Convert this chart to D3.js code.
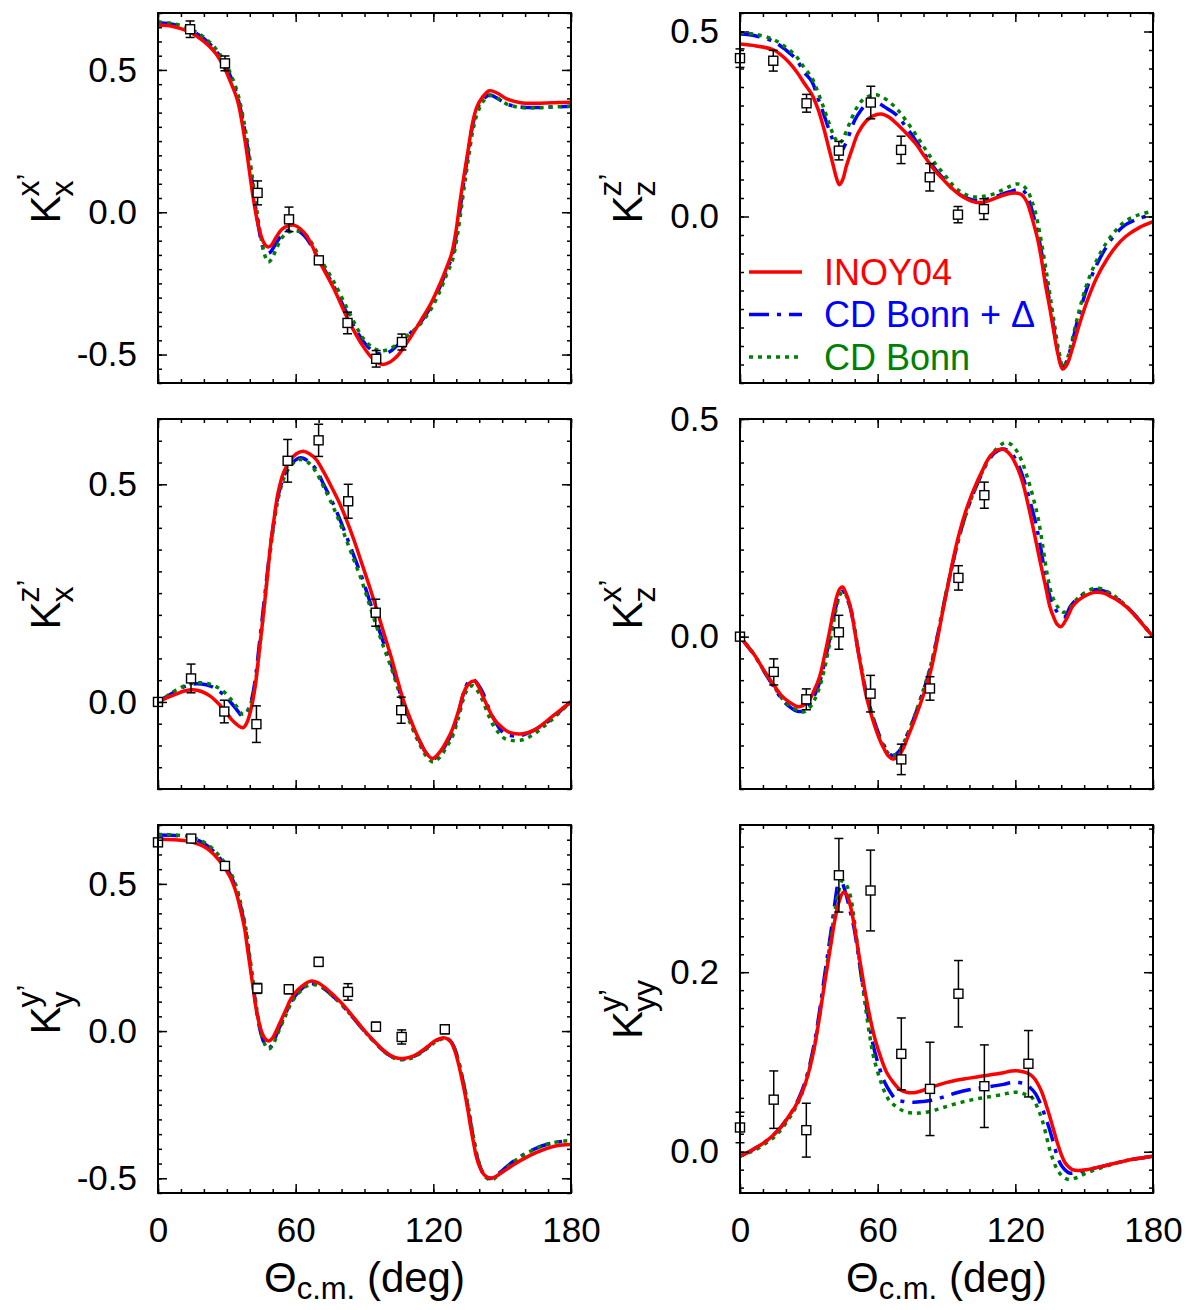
<!DOCTYPE html>
<html>
<head>
<meta charset="utf-8">
<script src="https://cdn.jsdelivr.net/npm/d3@7"></script>
<style>
  body { margin: 0; background: #fff; }
  svg { display: block; }
</style>
</head>
<body>
<svg id="chart" width="1190" height="1310"></svg>
<script>
// ---- data: [theta (deg), value] for curves, [theta, value, error] for measurements ----

// K_x^x'
var kxx_inoy = [[0,0.658],[5,0.655],[10,0.645],[15,0.628],[20,0.6],[25,0.56],[28.7,0.511],[31.5,0.46],[34.6,0.394],[37.9,0.253],[41.2,0.066],[43,-0.02],[44.6,-0.075],[46.3,-0.11],[47.9,-0.122],[49.5,-0.115],[51.2,-0.092],[54,-0.06],[57,-0.047],[59.6,-0.046],[62,-0.058],[64.6,-0.081],[67,-0.115],[70.1,-0.169],[76.3,-0.263],[83,-0.38],[89.6,-0.474],[94,-0.518],[97.9,-0.535],[101,-0.527],[104,-0.508],[106.3,-0.485],[110,-0.44],[114.6,-0.38],[119,-0.32],[123,-0.25],[126,-0.19],[128,-0.145],[130,-0.06],[131.5,0.03],[133,0.11],[135,0.21],[137,0.31],[139,0.37],[141.5,0.405],[144.5,0.427],[148,0.418],[152,0.398],[158,0.385],[165,0.383],[172,0.385],[180,0.386]];
var kxx_bonnD = [[0,0.666],[5,0.662],[10,0.652],[15,0.636],[20,0.61],[25,0.57],[29,0.52],[32,0.47],[35,0.395],[38.5,0.255],[41.8,0.06],[44,-0.06],[46,-0.13],[47.5,-0.145],[49,-0.14],[51,-0.115],[54,-0.08],[57,-0.062],[59.6,-0.06],[62,-0.07],[64.6,-0.09],[67,-0.12],[70,-0.165],[76.3,-0.255],[83,-0.365],[89.6,-0.455],[94,-0.49],[97.5,-0.498],[101,-0.49],[104,-0.47],[106.3,-0.455],[110,-0.425],[114.6,-0.385],[119,-0.33],[123,-0.26],[126,-0.2],[128,-0.16],[130,-0.08],[131.5,0.0],[133,0.09],[135,0.2],[137,0.3],[139,0.36],[141.5,0.395],[144.5,0.412],[148,0.4],[152,0.38],[158,0.37],[165,0.368],[172,0.37],[180,0.372]];
var kxx_bonn = [[0,0.668],[5,0.665],[10,0.656],[15,0.64],[20,0.615],[25,0.576],[29,0.53],[32,0.48],[35,0.41],[38.5,0.27],[42,0.07],[44.5,-0.07],[46.5,-0.15],[48,-0.175],[49.5,-0.165],[51.5,-0.13],[54,-0.09],[57,-0.07],[60,-0.065],[62.5,-0.07],[65,-0.085],[67.5,-0.115],[70.5,-0.16],[77,-0.25],[83.5,-0.355],[89.6,-0.445],[94,-0.478],[97.5,-0.487],[101,-0.48],[104,-0.465],[106.3,-0.45],[110,-0.425],[114.6,-0.39],[119,-0.34],[123,-0.275],[126,-0.215],[128.3,-0.17],[130.3,-0.09],[131.8,-0.01],[133.3,0.08],[135.3,0.19],[137.3,0.29],[139.3,0.35],[141.8,0.39],[145,0.41],[148,0.4],[152,0.38],[158,0.368],[165,0.367],[172,0.37],[180,0.372]];
var kxx_data = [[14,0.643,0.029],[29.2,0.523,0.026],[43.4,0.068,0.042],[57.1,-0.025,0.043],[70.1,-0.169,0.01],[82.6,-0.389,0.038],[95.1,-0.515,0.029],[106.3,-0.456,0.028]];

// K_z^z'
var kzz_inoy = [[0,0.466],[7,0.461],[14.7,0.45],[20,0.425],[24.6,0.392],[28,0.36],[31.3,0.33],[34,0.29],[36.3,0.243],[38.5,0.19],[40.4,0.144],[42,0.105],[43.3,0.086],[44.8,0.1],[46.3,0.135],[49,0.185],[51.4,0.225],[55,0.258],[58,0.272],[61.4,0.277],[65,0.268],[68.1,0.252],[72,0.228],[76.4,0.198],[80.5,0.162],[84.7,0.126],[89,0.097],[93.1,0.072],[98,0.05],[103,0.038],[107,0.04],[111.4,0.05],[115,0.058],[118.1,0.063],[121,0.063],[123,0.058],[125,0.04],[126.4,0.015],[128,-0.02],[129.8,-0.063],[131.5,-0.12],[133,-0.18],[134.8,-0.24],[136.4,-0.297],[138.5,-0.37],[140.6,-0.412],[142.5,-0.4],[144.7,-0.36],[148,-0.29],[151.5,-0.225],[155.5,-0.165],[159.8,-0.117],[164,-0.08],[168.1,-0.054],[174,-0.03],[180,-0.014]];
var kzz_bonnD = [[0,0.493],[7,0.488],[14.7,0.473],[20,0.45],[24.6,0.424],[28,0.39],[31.3,0.365],[34,0.32],[36.3,0.28],[38.5,0.24],[40.4,0.207],[42,0.18],[43.6,0.171],[45.5,0.19],[47.8,0.225],[50,0.26],[52.8,0.288],[55,0.303],[57.8,0.311],[60,0.308],[62.8,0.297],[68.1,0.275],[72,0.245],[76.4,0.207],[80.5,0.168],[84.7,0.131],[89,0.1],[93.1,0.072],[97,0.055],[101.4,0.045],[105,0.044],[109.7,0.05],[114,0.06],[118.1,0.068],[121,0.073],[123,0.072],[125,0.058],[126.4,0.036],[128,0.0],[129.8,-0.045],[131.5,-0.1],[133,-0.162],[134.8,-0.225],[136.4,-0.288],[138.5,-0.365],[140.6,-0.41],[142.5,-0.39],[144.7,-0.342],[148,-0.26],[151.5,-0.189],[155.5,-0.13],[159.8,-0.081],[164,-0.045],[168.1,-0.022],[174,-0.005],[180,0.005]];
var kzz_bonn = [[0,0.497],[7,0.492],[14.7,0.478],[20,0.457],[24.6,0.432],[28,0.402],[31.3,0.375],[34,0.335],[36.3,0.297],[38.5,0.258],[40.4,0.225],[42,0.205],[43,0.198],[44.5,0.205],[46,0.225],[48.3,0.26],[51,0.295],[54,0.318],[58.6,0.329],[61,0.326],[64,0.315],[68.5,0.29],[72.5,0.258],[77,0.218],[81,0.18],[85.2,0.142],[89.5,0.11],[93.5,0.08],[97.5,0.062],[101.5,0.053],[105.5,0.054],[110,0.06],[114.5,0.072],[118,0.083],[120.5,0.088],[123,0.085],[125.3,0.07],[127,0.045],[128.8,0.01],[130.5,-0.04],[132.2,-0.1],[133.8,-0.16],[135.4,-0.225],[137,-0.29],[139,-0.365],[140.8,-0.408],[142.6,-0.385],[144.7,-0.335],[148,-0.25],[151.5,-0.177],[155.5,-0.118],[159.8,-0.07],[164,-0.036],[168.1,-0.012],[174,0.005],[180,0.014]];
var kzz_data = [[0,0.428,0.025],[14.5,0.421,0.028],[29,0.306,0.024],[43.1,0.178,0.025],[57,0.308,0.044],[70.2,0.18,0.037],[82.7,0.106,0.037],[95,0.005,0.022],[106.3,0.02,0.028]];

// K_x^z'
var kxz_inoy = [[0,0],[4,0.01],[7.8,0.018],[11.5,0.025],[15.2,0.028],[19,0.024],[22.6,0.014],[26,-0.002],[29.2,-0.021],[32,-0.04],[34.2,-0.051],[36,-0.058],[37.2,-0.059],[38.7,-0.048],[40,-0.028],[41.2,0.0],[42.4,0.037],[44,0.11],[45.7,0.19],[47.4,0.275],[49,0.358],[50.7,0.425],[52.3,0.48],[54.8,0.528],[57.3,0.553],[60.3,0.57],[63.4,0.576],[66,0.57],[68.9,0.557],[72,0.53],[75.5,0.495],[79,0.458],[82.1,0.419],[85.4,0.372],[88.7,0.32],[92,0.268],[95.3,0.213],[98.6,0.155],[101.9,0.098],[104.5,0.048],[106.8,0.006],[109.3,-0.03],[111.8,-0.063],[114.3,-0.092],[116.7,-0.116],[119.7,-0.13],[123.3,-0.112],[125.8,-0.09],[128.3,-0.063],[131,-0.02],[133.3,0.022],[135.5,0.042],[137.9,0.048],[139.7,0.035],[141.5,0.014],[144,-0.015],[146.5,-0.04],[149.8,-0.058],[153.1,-0.07],[158.9,-0.073],[164.6,-0.063],[168,-0.05],[171.2,-0.036],[175.5,-0.018],[180,0]];
var kxz_bonnD = [[0,0],[4,0.013],[7.8,0.025],[11.5,0.035],[15.2,0.041],[19,0.041],[22.6,0.037],[26,0.027],[29.2,0.014],[32,-0.003],[34.2,-0.017],[36.7,-0.032],[38.3,-0.026],[40,-0.009],[41.2,0.015],[42.4,0.052],[44,0.125],[45.7,0.205],[47.4,0.285],[49,0.358],[50.7,0.422],[52.3,0.472],[54.8,0.518],[57.3,0.541],[60,0.556],[62.2,0.561],[65.5,0.553],[68.9,0.534],[72,0.502],[75.5,0.465],[79,0.423],[82.1,0.381],[85.4,0.335],[88.7,0.289],[92,0.236],[95.3,0.182],[98.6,0.131],[101.9,0.083],[104.5,0.038],[106.8,-0.001],[109.3,-0.035],[111.8,-0.067],[114.3,-0.093],[116.7,-0.116],[120,-0.131],[123.3,-0.116],[125.8,-0.095],[128.3,-0.07],[131,-0.025],[133.3,0.022],[135.3,0.046],[137.4,0.052],[139.5,0.04],[141.5,0.022],[144,-0.012],[146.5,-0.04],[149,-0.062],[151.4,-0.074],[157.2,-0.078],[162,-0.07],[164.6,-0.063],[168,-0.052],[171.2,-0.04],[175.5,-0.02],[180,0]];
var kxz_bonn = [[0,0],[4,0.014],[7.8,0.027],[11.5,0.037],[15.2,0.043],[19,0.044],[22.6,0.041],[26,0.033],[29.2,0.021],[32,0.005],[34.2,-0.01],[36.8,-0.028],[38.5,-0.025],[40,-0.01],[41.3,0.012],[42.5,0.045],[44.1,0.115],[45.8,0.195],[47.5,0.278],[49.1,0.352],[50.8,0.418],[52.5,0.47],[55,0.516],[57.5,0.54],[60,0.553],[62.2,0.557],[65.5,0.55],[68.9,0.528],[72,0.496],[75.5,0.458],[79,0.415],[82.1,0.372],[85.4,0.326],[88.7,0.28],[92,0.226],[95.3,0.173],[98.6,0.122],[101.9,0.075],[104.5,0.032],[106.8,-0.006],[109.3,-0.04],[111.8,-0.072],[114.3,-0.1],[116.7,-0.123],[120,-0.138],[123.3,-0.124],[125.8,-0.103],[128.3,-0.08],[131,-0.035],[133.3,0.01],[135.3,0.032],[137.2,0.037],[139.3,0.025],[141.5,0.003],[144,-0.03],[146.5,-0.057],[149,-0.074],[151.4,-0.085],[155.5,-0.089],[159,-0.087],[162,-0.08],[165,-0.07],[168,-0.057],[171.2,-0.043],[175.5,-0.022],[180,0]];
var kxz_data = [[0,0,0.006],[14.4,0.054,0.033],[28.9,-0.022,0.026],[42.9,-0.051,0.042],[56.5,0.554,0.049],[70,0.601,0.037],[82.9,0.461,0.039],[94.9,0.205,0.031],[106,-0.019,0.03]];

// K_z^x'
var kzx_inoy = [[0,0],[3,-0.02],[6.3,-0.042],[10.5,-0.078],[14.7,-0.111],[18,-0.135],[21.4,-0.15],[25.5,-0.161],[27.5,-0.158],[29.7,-0.15],[32.2,-0.125],[34.7,-0.092],[36.8,-0.045],[38.9,0.008],[40.6,0.055],[42.2,0.092],[43.5,0.11],[44.7,0.114],[46.3,0.098],[48.1,0.069],[49.8,0.02],[51.4,-0.031],[53.1,-0.082],[54.8,-0.131],[56.8,-0.172],[58.9,-0.208],[61,-0.238],[63.1,-0.261],[64.8,-0.275],[66.5,-0.281],[68.2,-0.278],[69.8,-0.269],[71.5,-0.253],[73.1,-0.231],[75.6,-0.198],[78.1,-0.162],[80.7,-0.122],[83.2,-0.077],[85.7,-0.015],[88.2,0.054],[90.7,0.12],[93.2,0.185],[95.7,0.24],[98.2,0.285],[100.7,0.322],[103.2,0.354],[105.7,0.382],[108.2,0.408],[111,0.425],[114,0.431],[116,0.427],[118.2,0.415],[120.7,0.39],[123.2,0.354],[125.7,0.3],[128.2,0.239],[130.7,0.175],[133.2,0.115],[135,0.07],[136.6,0.046],[138.3,0.028],[139.9,0.023],[142.4,0.042],[144.9,0.069],[147.4,0.083],[149.9,0.092],[152.5,0.099],[155.3,0.102],[158.5,0.1],[161.6,0.092],[165,0.082],[168.3,0.069],[171.7,0.051],[175,0.031],[180,0]];
var kzx_bonnD = [[0,0],[3,-0.02],[6.3,-0.043],[10.5,-0.08],[14.7,-0.115],[18,-0.142],[21.4,-0.16],[25.5,-0.172],[27.5,-0.17],[29.7,-0.16],[32.2,-0.138],[34.7,-0.105],[36.8,-0.06],[38.9,-0.01],[40.6,0.038],[42.2,0.077],[43.5,0.098],[44.8,0.104],[46.3,0.092],[48.1,0.065],[49.8,0.02],[51.4,-0.03],[53.1,-0.078],[54.8,-0.124],[56.8,-0.165],[58.9,-0.2],[61,-0.23],[63.1,-0.253],[64.8,-0.267],[66.3,-0.273],[68,-0.27],[69.8,-0.26],[71.5,-0.243],[73.1,-0.222],[75.6,-0.19],[78.1,-0.153],[80.7,-0.112],[83.2,-0.068],[85.7,-0.008],[88.2,0.058],[90.7,0.122],[93.2,0.18],[95.7,0.233],[98.2,0.278],[100.7,0.316],[103.2,0.348],[105.7,0.378],[108.2,0.403],[111,0.422],[114.5,0.431],[117,0.427],[119.2,0.415],[121.7,0.39],[124.2,0.352],[126.7,0.305],[129,0.258],[131.2,0.2],[133.4,0.13],[135.5,0.085],[137.8,0.06],[139.8,0.048],[141.6,0.046],[144,0.07],[146.6,0.085],[150,0.098],[155,0.108],[158.5,0.105],[161.6,0.097],[165,0.085],[168.3,0.07],[171.7,0.052],[175,0.032],[180,0]];
var kzx_bonn = [[0,0],[3,-0.019],[6.3,-0.042],[10.5,-0.079],[14.7,-0.113],[18,-0.14],[21.4,-0.158],[25.5,-0.17],[27.8,-0.173],[30,-0.165],[32.5,-0.145],[35,-0.11],[37.2,-0.065],[39.2,-0.012],[41,0.04],[42.6,0.08],[44,0.1],[45.3,0.102],[46.8,0.088],[48.6,0.058],[50.2,0.012],[51.8,-0.038],[53.5,-0.088],[55.2,-0.133],[57.2,-0.172],[59.2,-0.207],[61.2,-0.236],[63.3,-0.258],[65,-0.27],[66.5,-0.274],[68.2,-0.27],[70,-0.258],[71.7,-0.24],[73.3,-0.22],[75.8,-0.186],[78.3,-0.148],[80.9,-0.106],[83.4,-0.06],[86,0.002],[88.5,0.066],[91,0.128],[93.5,0.185],[96,0.237],[98.5,0.282],[101,0.32],[103.5,0.353],[106,0.383],[108.5,0.41],[111.5,0.43],[115.5,0.446],[118,0.442],[120.2,0.43],[122.7,0.405],[125,0.37],[127.5,0.325],[130,0.27],[132.2,0.2],[134,0.14],[136,0.095],[138.5,0.068],[141,0.056],[143.5,0.065],[146.6,0.085],[150,0.1],[155,0.112],[158.5,0.108],[161.6,0.099],[165,0.086],[168.3,0.07],[171.7,0.052],[175,0.032],[180,0]];
var kzx_data = [[0,0,0.004],[14.7,-0.081,0.03],[28.9,-0.144,0.024],[43.1,0.01,0.039],[56.9,-0.131,0.042],[70.3,-0.282,0.035],[82.8,-0.119,0.027],[95.2,0.135,0.028],[106.5,0.325,0.03]];

// K_y^y'
var kyy_inoy = [[0,0.652],[5,0.651],[11.2,0.647],[15.5,0.64],[19.5,0.629],[23,0.61],[26.2,0.584],[29,0.555],[31.2,0.527],[33,0.495],[34.5,0.459],[36.2,0.405],[37.8,0.346],[39,0.28],[40.3,0.21],[41.6,0.14],[42.8,0.074],[44,0.03],[45.3,-0.005],[46.8,-0.027],[48.3,-0.034],[49.8,-0.025],[51.2,-0.005],[52.8,0.022],[54.5,0.051],[56.2,0.08],[57.8,0.108],[60.3,0.135],[62.8,0.153],[65,0.165],[67,0.17],[69.5,0.165],[72.8,0.148],[77,0.118],[81.2,0.085],[85.4,0.045],[89.5,0.006],[93.7,-0.03],[97.8,-0.062],[101.2,-0.082],[104.5,-0.092],[107,-0.093],[111.2,-0.085],[114.5,-0.07],[117.8,-0.051],[120.3,-0.035],[122.8,-0.026],[124.5,-0.023],[126.2,-0.027],[127.8,-0.039],[129.5,-0.07],[131.2,-0.119],[132.5,-0.165],[133.7,-0.21],[135,-0.265],[136.2,-0.323],[137.5,-0.378],[138.7,-0.425],[140.3,-0.463],[142,-0.487],[143.7,-0.497],[145.3,-0.499],[147.4,-0.493],[149.5,-0.482],[152.8,-0.465],[156.2,-0.448],[160.3,-0.43],[164.5,-0.414],[168.6,-0.401],[172.8,-0.391],[176.4,-0.387],[180,-0.385]];
var kyy_bonnD = [[0,0.666],[5,0.665],[11.2,0.661],[15.5,0.653],[19.5,0.64],[23,0.62],[26.2,0.594],[29,0.565],[31.5,0.532],[33.3,0.5],[34.8,0.463],[36.5,0.407],[38.1,0.346],[39.3,0.28],[40.6,0.205],[41.9,0.13],[43.1,0.06],[44.3,0.01],[45.5,-0.025],[47,-0.052],[48.3,-0.057],[49.8,-0.045],[51.2,-0.02],[52.8,0.01],[54.5,0.04],[56.2,0.07],[57.8,0.097],[60.3,0.125],[62.8,0.145],[65,0.157],[67.2,0.161],[69.5,0.157],[72.8,0.142],[77,0.113],[81.2,0.08],[85.4,0.042],[89.5,0.004],[93.7,-0.032],[97.8,-0.064],[101.2,-0.084],[104.5,-0.094],[107,-0.095],[111.2,-0.087],[114.5,-0.072],[117.8,-0.053],[120.3,-0.037],[122.8,-0.027],[124.7,-0.023],[126.5,-0.027],[128.1,-0.04],[129.8,-0.07],[131.5,-0.119],[132.8,-0.165],[134,-0.21],[135.3,-0.265],[136.5,-0.323],[137.8,-0.378],[139,-0.425],[140.6,-0.465],[142.2,-0.49],[143.9,-0.5],[145.3,-0.5],[147.4,-0.49],[149.5,-0.477],[152.8,-0.455],[156.2,-0.435],[160.3,-0.415],[164.5,-0.399],[168.6,-0.387],[172.8,-0.379],[176.4,-0.375],[180,-0.374]];
var kyy_bonn = [[0,0.668],[5,0.667],[11.2,0.663],[15.5,0.656],[19.5,0.644],[23,0.625],[26.2,0.6],[29,0.572],[31.7,0.538],[33.5,0.505],[35,0.468],[36.7,0.41],[38.3,0.348],[39.5,0.282],[40.8,0.207],[42.1,0.132],[43.3,0.062],[44.6,0.008],[45.8,-0.03],[47.3,-0.055],[48.5,-0.06],[50,-0.048],[51.5,-0.022],[53,0.007],[54.7,0.037],[56.4,0.067],[58,0.094],[60.5,0.122],[63,0.142],[65.2,0.154],[67.4,0.158],[69.7,0.155],[73,0.14],[77.2,0.111],[81.4,0.078],[85.6,0.04],[89.7,0.002],[93.9,-0.034],[98,-0.066],[101.4,-0.086],[104.7,-0.096],[107.2,-0.097],[111.4,-0.089],[114.7,-0.074],[118,-0.055],[120.5,-0.039],[123,-0.029],[125,-0.025],[126.8,-0.03],[128.4,-0.045],[130.1,-0.078],[131.8,-0.127],[133.1,-0.172],[134.3,-0.218],[135.6,-0.272],[136.8,-0.33],[138.1,-0.385],[139.3,-0.43],[140.9,-0.47],[142.5,-0.494],[144.2,-0.504],[145.6,-0.505],[147.7,-0.494],[149.8,-0.48],[153,-0.457],[156.4,-0.436],[160.5,-0.416],[164.7,-0.399],[168.8,-0.386],[173,-0.378],[176.5,-0.374],[180,-0.372]];
var kyy_data = [[0,0.641,0.012],[14.5,0.654,0.012],[29.2,0.561,0.012],[43.3,0.145,0.017],[57,0.142,0.015],[70,0.235,0.015],[82.8,0.133,0.028],[95,0.015,0.015],[106.2,-0.02,0.024],[125,0.006,0.015]];

// K_yy^y'
var kyyy_inoy = [[0,-0.005],[4,0.0],[8,0.006],[11.5,0.012],[14.7,0.019],[18,0.028],[21.4,0.04],[24,0.05],[26.4,0.062],[28.6,0.077],[30.6,0.095],[32.7,0.12],[34.7,0.151],[36.4,0.18],[38.1,0.207],[39.8,0.234],[41.4,0.259],[43.2,0.279],[45.1,0.289],[46.6,0.286],[48.1,0.274],[49.8,0.252],[51.4,0.226],[53.1,0.2],[54.8,0.174],[56.8,0.148],[58.9,0.125],[61.5,0.104],[64,0.088],[66.9,0.077],[69.8,0.069],[73,0.066],[76.5,0.066],[80.5,0.069],[84.8,0.073],[89.8,0.077],[94.8,0.08],[99.9,0.082],[104.9,0.084],[109.9,0.086],[114.9,0.088],[118.3,0.09],[121.6,0.09],[124.8,0.088],[127.4,0.084],[129.5,0.077],[131.6,0.066],[133.2,0.054],[134.9,0.04],[136.6,0.025],[138.3,0.01],[140,-0.003],[141.6,-0.012],[143.3,-0.017],[144.9,-0.02],[147.4,-0.021],[151,-0.02],[154.9,-0.018],[159.9,-0.015],[164.9,-0.012],[170,-0.009],[175,-0.007],[180,-0.005]];
var kyyy_bonnD = [[0,-0.005],[4,0.0],[8,0.006],[11.5,0.012],[14.7,0.019],[18,0.028],[21.4,0.04],[24,0.051],[26.4,0.064],[28.6,0.08],[30.6,0.099],[32.7,0.125],[34.7,0.157],[36.4,0.188],[38.1,0.218],[39.8,0.248],[41.4,0.278],[42.5,0.297],[43.4,0.307],[44.6,0.3],[46.4,0.285],[48.1,0.267],[49.8,0.248],[51.4,0.222],[53.1,0.192],[55.6,0.155],[58.1,0.118],[60.6,0.095],[63.1,0.077],[65.6,0.066],[68.1,0.058],[71.5,0.056],[75.6,0.055],[80,0.056],[84.8,0.058],[89.8,0.062],[94.8,0.066],[99.9,0.069],[104.9,0.071],[109.9,0.073],[114.9,0.075],[118.3,0.077],[121.6,0.077],[124.2,0.075],[126.6,0.071],[128.7,0.065],[130.7,0.055],[132.8,0.041],[134.9,0.025],[136.6,0.01],[138.3,-0.005],[140,-0.015],[141.6,-0.02],[143,-0.023],[144.1,-0.024],[147,-0.023],[151.6,-0.02],[154.9,-0.018],[159.9,-0.015],[164.9,-0.012],[170,-0.009],[175,-0.007],[180,-0.005]];
var kyyy_bonn = [[0,-0.005],[4,-0.001],[8,0.004],[11.5,0.01],[14.7,0.016],[18,0.025],[21.4,0.037],[24,0.048],[26.4,0.061],[28.6,0.077],[30.6,0.096],[32.7,0.121],[34.7,0.152],[36.4,0.182],[38.1,0.212],[39.8,0.242],[41.4,0.268],[43,0.29],[44.7,0.302],[46.4,0.297],[48.1,0.285],[49.8,0.258],[51.4,0.226],[53.1,0.192],[54.8,0.159],[56.5,0.13],[58.1,0.107],[61.5,0.077],[64.8,0.058],[68.2,0.05],[71.5,0.045],[75,0.043],[78.1,0.043],[83,0.045],[88.2,0.049],[94.8,0.054],[101.5,0.058],[108,0.061],[114.9,0.064],[118.3,0.066],[121.6,0.066],[124.2,0.064],[126.6,0.062],[128.4,0.056],[130,0.047],[131.6,0.036],[133.3,0.02],[134.9,0.003],[136.6,-0.01],[138.3,-0.02],[140.8,-0.028],[143.3,-0.031],[146.6,-0.029],[149.9,-0.025],[154.9,-0.02],[159.9,-0.016],[164.9,-0.012],[170,-0.009],[175,-0.007],[180,-0.005]];
var kyyy_data = [[0,0.027,0.017],[14.7,0.058,0.032],[28.9,0.024,0.03],[43.1,0.308,0.041],[56.9,0.291,0.045],[70.3,0.109,0.04],[82.8,0.07,0.052],[95.2,0.176,0.037],[106.5,0.073,0.046],[125.7,0.098,0.037]];

var xTicks = [0, 60, 120, 180];
var legendNames = ["INOY04", "CD Bonn + \u0394", "CD Bonn"];

// ---- layout ----
var FONT = "'Liberation Sans', Arial, Helvetica, sans-serif";
var svg = d3.select("#chart");

var colX = [[158, 571], [740, 1153]];
var rowY = [[13, 383], [419, 789], [825, 1193]];

// series order in each panel: INOY04, CD Bonn + Delta, CD Bonn
var styles = [
  { color: "#ff0000", dash: null },
  { color: "#0000ff", dash: "20,8,4,8" },
  { color: "#008000", dash: "4,5" }
];

var panels = [
  { col: 0, row: 0, domain: [-0.6, 0.7], major: 0.5, minor: 0.05, sup: "x", sub: "x", series: [kxx_inoy, kxx_bonnD, kxx_bonn], data: kxx_data },
  { col: 1, row: 0, domain: [-0.45, 0.55], major: 0.5, minor: 0.05, sup: "z", sub: "z", series: [kzz_inoy, kzz_bonnD, kzz_bonn], data: kzz_data, legend: true },
  { col: 0, row: 1, domain: [-0.2, 0.65], major: 0.5, minor: 0.05, sup: "z", sub: "x", series: [kxz_inoy, kxz_bonnD, kxz_bonn], data: kxz_data },
  { col: 1, row: 1, domain: [-0.35, 0.5], major: 0.5, minor: 0.05, sup: "x", sub: "z", series: [kzx_inoy, kzx_bonnD, kzx_bonn], data: kzx_data },
  { col: 0, row: 2, domain: [-0.55, 0.7], major: 0.5, minor: 0.05, sup: "y", sub: "y", series: [kyy_inoy, kyy_bonnD, kyy_bonn], data: kyy_data },
  { col: 1, row: 2, domain: [-0.046, 0.364], major: 0.2, minor: 0.02, sup: "y", sub: "yy", series: [kyyy_inoy, kyyy_bonnD, kyyy_bonn], data: kyyy_data }
];

function stepTicks(lo, hi, step) {
  var out = [];
  var n0 = Math.ceil(lo / step - 1e-6), n1 = Math.floor(hi / step + 1e-6);
  for (var i = n0; i <= n1; i++) out.push(+(i * step).toFixed(6));
  return out;
}

function styleAxis(sel) {
  sel.select(".domain").remove();
  sel.selectAll("line").attr("stroke", "#000").attr("stroke-width", 1.5);
  sel.selectAll("text").attr("font-family", FONT).attr("font-size", 35).attr("fill", "#000");
}

panels.forEach(function(p) {
  var x0 = colX[p.col][0], x1 = colX[p.col][1];
  var y0 = rowY[p.row][0], y1 = rowY[p.row][1];
  var x = d3.scaleLinear().domain([0, 180]).range([x0, x1]);
  var y = d3.scaleLinear().domain(p.domain).range([y1, y0]);
  var g = svg.append("g");

  // curves: blue, green, red on top
  var line = d3.line()
    .x(function(d) { return x(d[0]); })
    .y(function(d) { return y(d[1]); })
    .curve(d3.curveCatmullRom.alpha(0.5));
  [1, 2, 0].forEach(function(i) {
    g.append("path")
      .datum(p.series[i])
      .attr("d", line)
      .attr("fill", "none")
      .attr("stroke", styles[i].color)
      .attr("stroke-width", 3.5)
      .attr("stroke-dasharray", styles[i].dash);
  });

  // measured points with error bars
  var pts = g.append("g").selectAll("g").data(p.data).enter().append("g");
  pts.append("line")
    .attr("x1", function(d) { return x(d[0]); }).attr("x2", function(d) { return x(d[0]); })
    .attr("y1", function(d) { return y(d[1] - d[2]); }).attr("y2", function(d) { return y(d[1] + d[2]); })
    .attr("stroke", "#000").attr("stroke-width", 1.5);
  [-1, 1].forEach(function(s) {
    pts.append("line")
      .attr("x1", function(d) { return x(d[0]) - 4.5; }).attr("x2", function(d) { return x(d[0]) + 4.5; })
      .attr("y1", function(d) { return y(d[1] + s * d[2]); }).attr("y2", function(d) { return y(d[1] + s * d[2]); })
      .attr("stroke", "#000").attr("stroke-width", 1.5);
  });
  pts.append("rect")
    .attr("x", function(d) { return x(d[0]) - 4.5; })
    .attr("y", function(d) { return y(d[1]) - 4.5; })
    .attr("width", 9).attr("height", 9)
    .attr("fill", "#fff").attr("stroke", "#000").attr("stroke-width", 1.4);

  // axes with inward ticks on all four sides
  var yMinor = stepTicks(p.domain[0], p.domain[1], p.minor);
  var yMajor = stepTicks(p.domain[0], p.domain[1], p.major);
  var xMinor = d3.range(0, 181, 10);
  var showX = p.row === 2;

  g.append("g").attr("transform", "translate(" + x0 + ",0)")
    .call(d3.axisLeft(y).tickValues(yMinor).tickSize(-4).tickFormat("")).call(styleAxis);
  g.append("g").attr("transform", "translate(" + x0 + ",0)")
    .call(d3.axisLeft(y).tickValues(yMajor).tickSize(-9).tickPadding(21)
      .tickFormat(function(d) { return d.toFixed(1); }))
    .call(styleAxis);
  g.append("g").attr("transform", "translate(" + x1 + ",0)")
    .call(d3.axisRight(y).tickValues(yMinor).tickSize(-4).tickFormat("")).call(styleAxis);
  g.append("g").attr("transform", "translate(" + x1 + ",0)")
    .call(d3.axisRight(y).tickValues(yMajor).tickSize(-9).tickFormat("")).call(styleAxis);
  g.append("g").attr("transform", "translate(0," + y0 + ")")
    .call(d3.axisTop(x).tickValues(xMinor).tickSize(-4).tickFormat("")).call(styleAxis);
  g.append("g").attr("transform", "translate(0," + y0 + ")")
    .call(d3.axisTop(x).tickValues(xTicks).tickSize(-9).tickFormat("")).call(styleAxis);
  g.append("g").attr("transform", "translate(0," + y1 + ")")
    .call(d3.axisBottom(x).tickValues(xMinor).tickSize(-4).tickFormat("")).call(styleAxis);
  g.append("g").attr("transform", "translate(0," + y1 + ")")
    .call(d3.axisBottom(x).tickValues(xTicks).tickSize(-9).tickPadding(24)
      .tickFormat(showX ? d3.format("d") : ""))
    .call(styleAxis);

  // frame
  g.append("rect")
    .attr("x", x0).attr("y", y0).attr("width", x1 - x0).attr("height", y1 - y0)
    .attr("fill", "none").attr("stroke", "#000").attr("stroke-width", 2);

  // y label  K_sub^sup'
  var lab = g.append("g")
    .attr("transform", "translate(" + (x0 - 98) + "," + ((y0 + y1) / 2) + ") rotate(-90)");
  var inner = lab.append("g");
  var kT = inner.append("text").attr("x", 0).attr("y", 0)
    .attr("font-family", FONT).attr("font-size", 42).text("K");
  var kw = kT.node().getComputedTextLength();
  var subT = inner.append("text").attr("x", kw - 1).attr("y", 13)
    .attr("font-family", FONT).attr("font-size", 32).text(p.sub);
  var supT = inner.append("text").attr("x", kw - 1).attr("y", -21)
    .attr("font-family", FONT).attr("font-size", 32).text(p.sup + "\u2019");
  var total = kw + Math.max(subT.node().getComputedTextLength(), supT.node().getComputedTextLength());
  inner.attr("transform", "translate(" + (-total / 2) + ",0)");

  // x title on the bottom row
  if (showX) {
    var t = g.append("text")
      .attr("x", (x0 + x1) / 2).attr("y", 1292)
      .attr("text-anchor", "middle")
      .attr("font-family", FONT).attr("font-size", 42);
    t.append("tspan").text("\u0398");
    t.append("tspan").attr("font-size", 31).attr("dy", 7).text("c.m.");
    t.append("tspan").attr("dy", -7).text(" (deg)");
  }

  // legend
  if (p.legend) {
    var lg = g.append("g");
    legendNames.forEach(function(name, i) {
      var ly = 272 + i * 42.5;
      lg.append("line")
        .attr("x1", x0 + 9).attr("x2", x0 + 62).attr("y1", ly).attr("y2", ly)
        .attr("stroke", styles[i].color).attr("stroke-width", 3.5)
        .attr("stroke-dasharray", styles[i].dash);
      lg.append("text")
        .attr("x", x0 + 84).attr("y", ly).attr("dy", "0.36em")
        .attr("font-family", FONT).attr("font-size", 36)
        .attr("fill", styles[i].color).text(name);
    });
  }
});
</script>
</body>
</html>
